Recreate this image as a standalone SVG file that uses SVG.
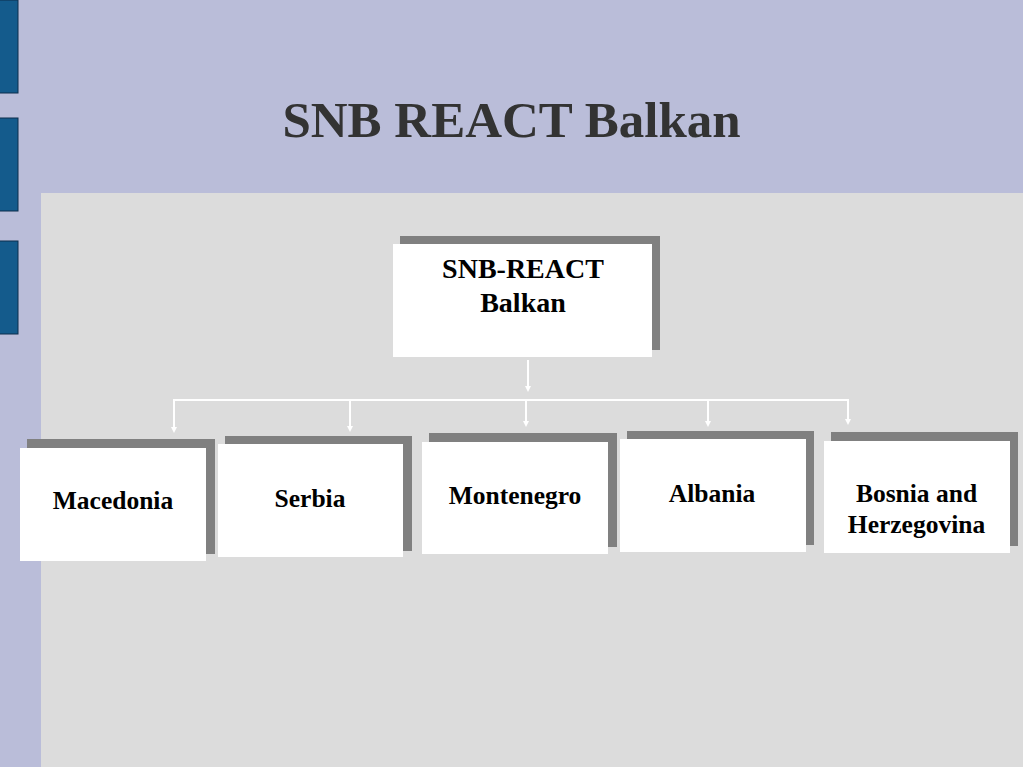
<svg xmlns="http://www.w3.org/2000/svg" width="1023" height="767" viewBox="0 0 1023 767">
<defs>
<style>
.bar{fill:#145b8c;stroke:#0c2f4c;stroke-width:1}
.sh{fill:#808080}
.bx{fill:#ffffff}
.lb{font-family:"Liberation Serif","Times New Roman",serif;font-weight:bold;font-size:25.5px;fill:#000;text-anchor:middle}
.tp{font-size:28px}
.cn{fill:none;stroke:#ffffff;stroke-width:2}
</style>
<marker id="ah" viewBox="0 0 6 6" refX="3" refY="3" markerWidth="3" markerHeight="3" orient="auto">
<path d="M0,0 L6,3 L0,6 Z" fill="#ffffff"/>
</marker>
</defs>
<rect x="0" y="0" width="1023" height="767" fill="#babdd9"/>
<rect x="-1" y="0" width="19" height="93" class="bar"/>
<rect x="-1" y="118" width="19" height="93" class="bar"/>
<rect x="-1" y="241" width="19" height="93" class="bar"/>
<rect x="41" y="193" width="982" height="574" fill="#dcdcdc"/>
<text x="511.5" y="137" font-family="'Liberation Serif','Times New Roman',serif" font-weight="bold" font-size="51" fill="#333333" text-anchor="middle">SNB REACT Balkan</text>
<g id="connectors">
<path class="cn" d="M528,360 V389" marker-end="url(#ah)"/>
<path class="cn" d="M173,400 H849"/>
<path class="cn" d="M174,400 V430" marker-end="url(#ah)"/>
<path class="cn" d="M350,400 V429" marker-end="url(#ah)"/>
<path class="cn" d="M526,400 V424" marker-end="url(#ah)"/>
<path class="cn" d="M708,400 V424" marker-end="url(#ah)"/>
<path class="cn" d="M848,400 V422" marker-end="url(#ah)"/>
</g>
<g id="root">
<rect x="400" y="236" width="260" height="114" class="sh"/>
<rect x="393" y="244" width="259" height="113" class="bx"/>
<text class="lb tp" x="523" y="278">SNB-REACT</text>
<text class="lb tp" x="523" y="312">Balkan</text>
</g>
<g id="macedonia">
<rect x="27" y="439" width="188" height="115" class="sh"/>
<rect x="20" y="448" width="186" height="113" class="bx"/>
<text class="lb" x="113" y="509">Macedonia</text>
</g>
<g id="serbia">
<rect x="225" y="436" width="187" height="115" class="sh"/>
<rect x="218" y="444" width="185" height="113" class="bx"/>
<text class="lb" x="310" y="507">Serbia</text>
</g>
<g id="montenegro">
<rect x="429" y="433" width="188" height="114" class="sh"/>
<rect x="422" y="442" width="186" height="112" class="bx"/>
<text class="lb" x="515" y="504">Montenegro</text>
</g>
<g id="albania">
<rect x="627" y="431" width="187" height="114" class="sh"/>
<rect x="620" y="439" width="186" height="113" class="bx"/>
<text class="lb" x="712" y="502">Albania</text>
</g>
<g id="bosnia">
<rect x="831" y="432" width="187" height="114" class="sh"/>
<rect x="824" y="441" width="186" height="112" class="bx"/>
<text class="lb" x="916.5" y="502">Bosnia and</text>
<text class="lb" x="916.5" y="533">Herzegovina</text>
</g>
</svg>
